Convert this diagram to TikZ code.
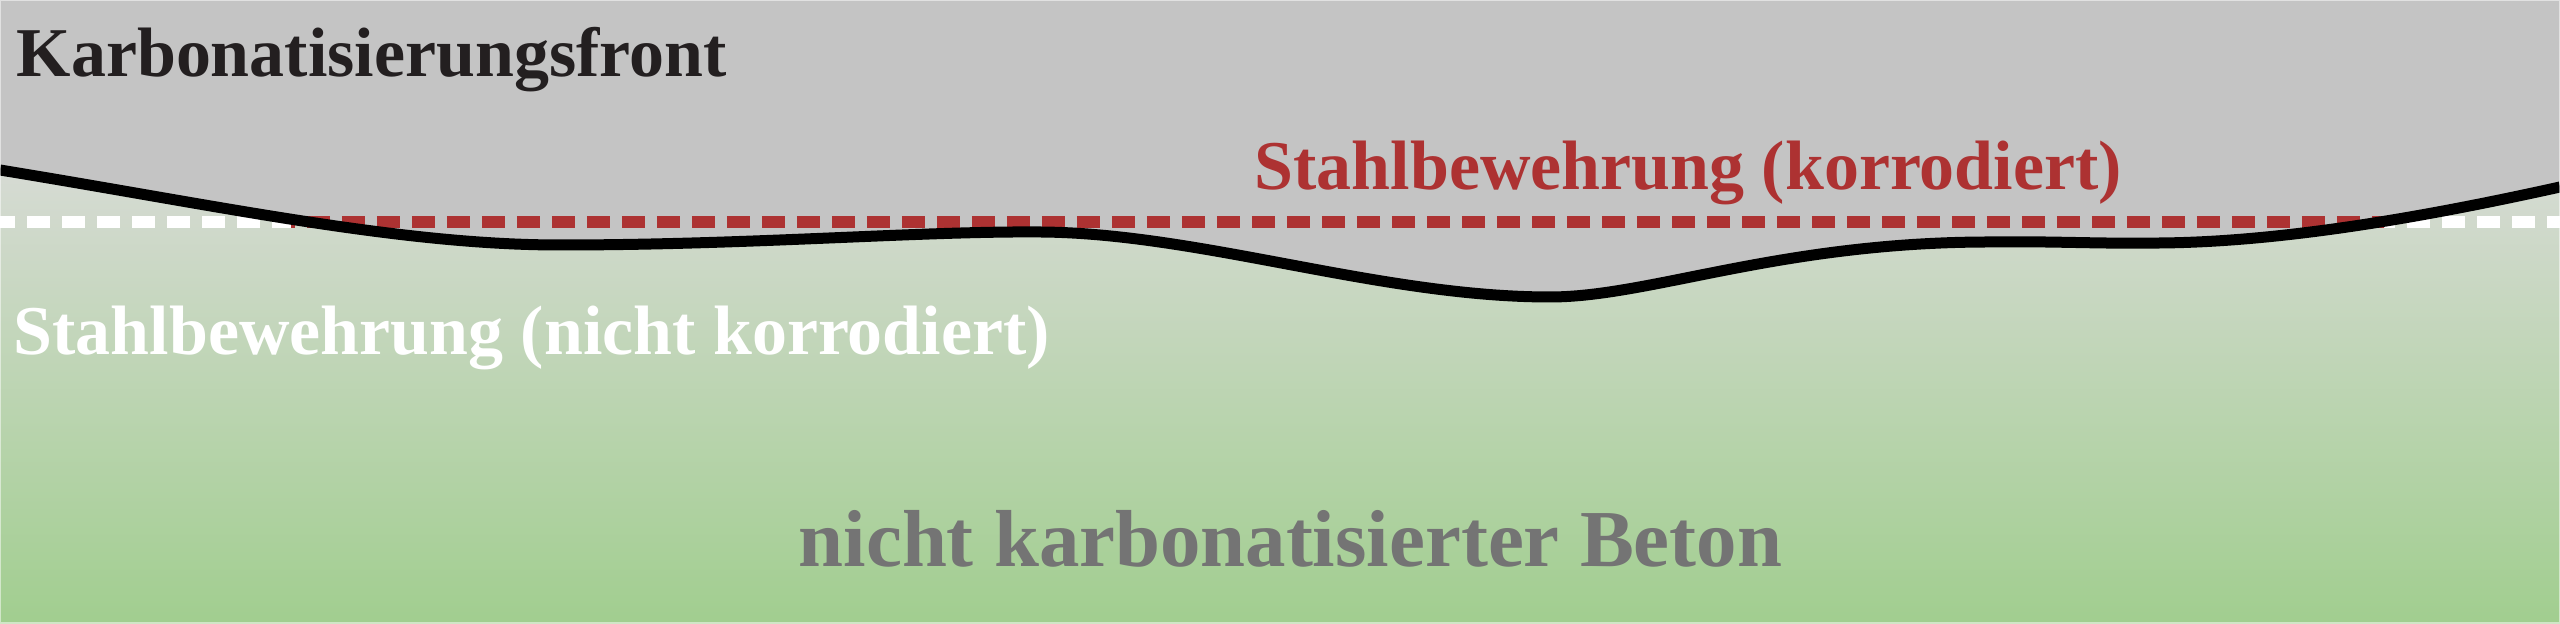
\documentclass[tikz,border=0pt]{standalone}
\usepackage{fontspec}
\setmainfont{Liberation Serif}
\definecolor{betongrau}{HTML}{C4C4C4}
\definecolor{rostrot}{HTML}{AD3232}
\definecolor{textgrau}{HTML}{747474}
\definecolor{fastschwarz}{HTML}{231F20}
\definecolor{gruenoben}{HTML}{D8DBD6}
\definecolor{gruenunten}{HTML}{A1CE8F}
\begin{document}
\begin{tikzpicture}
\tikzset{lbl/.style={font=\fontsize{19.9}{24}\selectfont\bfseries, inner sep=0pt, anchor=base west},
  bewehrung/.style={line width=0.12cm, dash pattern=on 0.23cm off 0.12cm, dash phase=0.08cm}}
    \useasboundingbox (0, 0) rectangle (25.6, 6.24);
    \shade[top color=gruenoben, bottom color=gruenunten] (0, 0) rectangle (25.6, 4.7);

    \fill[betongrau] (0, 6.24) -- (0, 4.54)
        .. controls (2.2, 4.18) and (4.0, 3.79) .. (5.6, 3.79)
        .. controls (7.5, 3.79) and (9.2, 3.93) .. (10.4, 3.92)
        .. controls (12.0, 3.91) and (13.8, 3.27) .. (15.5, 3.27)
        .. controls (16.5, 3.27) and (17.8, 3.82) .. (19.9, 3.82)
        .. controls (20.5, 3.83) and (21.0, 3.80) .. (21.6, 3.81)
        .. controls (22.8, 3.82) and (24.2, 4.06) .. (25.6, 4.37)
        -- (25.6, 6.24) -- cycle;

    \draw[bewehrung, white] (0, 4.02) -- (25.6, 4.02);
    \begin{scope}
        \clip (2.91, 3.8) rectangle (23.84, 4.2);
        \draw[bewehrung, rostrot] (0, 4.02) -- (25.6, 4.02);
    \end{scope}

    \draw[line width=0.11cm, black] (0, 4.54)
        .. controls (2.2, 4.18) and (4.0, 3.79) .. (5.6, 3.79)
        .. controls (7.5, 3.79) and (9.2, 3.93) .. (10.4, 3.92)
        .. controls (12.0, 3.91) and (13.8, 3.27) .. (15.5, 3.27)
        .. controls (16.5, 3.27) and (17.8, 3.82) .. (19.9, 3.82)
        .. controls (20.5, 3.83) and (21.0, 3.80) .. (21.6, 3.81)
        .. controls (22.8, 3.82) and (24.2, 4.06) .. (25.6, 4.37);

    \draw[white, opacity=0.5, line width=0.03cm] (0, 0) rectangle (25.6, 6.24);

    \node[lbl, fastschwarz] (front) at (0.16, 5.47) {Karbonatisierungsfront};
    \node[lbl, rostrot] (korr) at (12.54, 4.34) {Stahlbewehrung (korrodiert)};
    \node[lbl, white] (nkorr) at (0.13, 2.69) {Stahlbewehrung (nicht korrodiert)};
    \node[lbl, textgrau, font=\fontsize{23}{28}\selectfont\bfseries] (beton) at (7.98, 0.57) {nicht karbonatisierter Beton};
\end{tikzpicture}
\end{document}
